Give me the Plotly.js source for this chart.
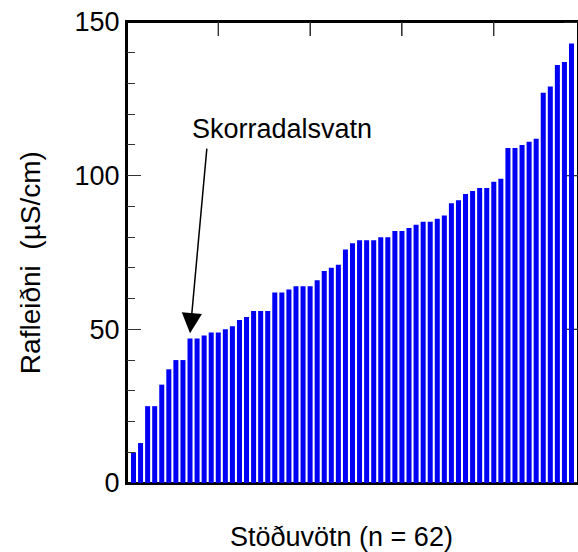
<!DOCTYPE html>
<html>
<head>
<meta charset="utf-8">
<script src="https://cdn.plot.ly/plotly-3.0.1.min.js"></script>
<style>html,body{margin:0;padding:0;overflow:hidden;background:#fff}</style>
</head>
<body>
<div id="chart" style="width:578px;height:552px"></div>
<script>
// Conductivity (µS/cm) of reference lakes, sorted ascending
const conductivity = [
  10, 13, 25, 25, 32, 37, 40, 40, 47, 47, 48, 49, 49, 50, 51, 53, 54, 56, 56, 56,
  62, 62, 63, 64, 64, 64, 66, 69, 70, 71, 76, 78, 79, 79, 79, 80, 80, 82, 82, 83, 84,
  85, 85, 86, 87, 91, 92, 94, 95, 96, 96, 98, 99, 109, 109, 110, 111, 112,
  127, 129, 136, 137, 143
];
const lakeIndex = conductivity.map((_, i) => i);
const highlightLake = 'Skorradalsvatn';
const highlightIndex = 8;
const yTitle = 'Rafleiðni&nbsp;&nbsp;(µS/cm)';
const xTitle = 'Stöðuvötn (n = 62)';
const topTickVals = [12, 25, 38, 51];
const rightTickVals = [0, 50, 100, 150];

const FONT = 'Liberation Sans, Arial, sans-serif';
const PLOT_W = 451, PLOT_H = 461, MAJOR_LEN = 14;

const traces = [{
  type: 'bar', x: lakeIndex, y: conductivity,
  marker: {color: '#0000f5'}
}];

// frame and mirrored ticks, drawn below the bars
const shapes = [
  {type: 'rect', xref: 'paper', yref: 'paper', x0: 0, x1: 1, y0: 0, y1: 1,
   line: {color: '#000', width: 2}, layer: 'below'}
].concat(topTickVals.map(v => ({
  type: 'line', xref: 'x', yref: 'paper', x0: v, x1: v, y0: 1, y1: 1 - MAJOR_LEN / PLOT_H,
  line: {color: '#333', width: 1.3}, layer: 'below'
}))).concat(rightTickVals.map(v => ({
  type: 'line', xref: 'paper', yref: 'y', x0: 1 - MAJOR_LEN / PLOT_W, x1: 1, y0: v, y1: v,
  line: {color: '#333', width: 1.3}, layer: 'below'
})));

const layout = {
  width: 578, height: 552,
  margin: {l: 127, r: 0, t: 22, b: 69},
  plot_bgcolor: 'rgba(0,0,0,0)', paper_bgcolor: '#fff',
  bargap: 0.29, showlegend: false,
  xaxis: {
    range: [-0.92, 62.92], showline: true, linecolor: '#000', linewidth: 2, mirror: 'ticks',
    ticks: 'inside', tickmode: 'array', tickvals: topTickVals, ticklen: 14, tickcolor: '#333',
    showticklabels: false, zeroline: false, showgrid: false, layer: 'below traces'
  },
  yaxis: {
    range: [0, 150], showline: true, linecolor: '#000', linewidth: 2,
    ticks: 'inside', dtick: 50, ticklen: 14, tickcolor: '#333',
    minor: {ticks: 'inside', dtick: 10, ticklen: 8, tickcolor: '#333', showgrid: false},
    zeroline: false, showgrid: false,
    tickfont: {size: 27, family: FONT, color: '#000'}
  },
  shapes: shapes,
  annotations: [
    {
      xref: 'paper', yref: 'paper', x: 0.476, y: -0.118, yanchor: 'middle',
      text: xTitle, showarrow: false,
      font: {size: 27, family: FONT, color: '#000'}
    },
    {
      xref: 'paper', yref: 'paper', x: -0.215, y: 0.477, textangle: -90,
      xanchor: 'center', yanchor: 'middle',
      text: yTitle, showarrow: false,
      font: {size: 28, family: FONT, color: '#000'}
    },
    {
      xref: 'x', yref: 'y', x: 21.0, y: 115.2,
      text: highlightLake, showarrow: false,
      font: {size: 27, family: FONT, color: '#000'}
    },
    {
      xref: 'x', yref: 'y', x: highlightIndex, y: 48.7,
      axref: 'x', ayref: 'y', ax: 10.4, ay: 109.3,
      text: '', showarrow: true,
      arrowhead: 2, arrowsize: 2.7, arrowwidth: 1.5, arrowcolor: '#000'
    }
  ]
};

Plotly.newPlot('chart', traces, layout, {displayModeBar: false});
</script>
</body>
</html>
